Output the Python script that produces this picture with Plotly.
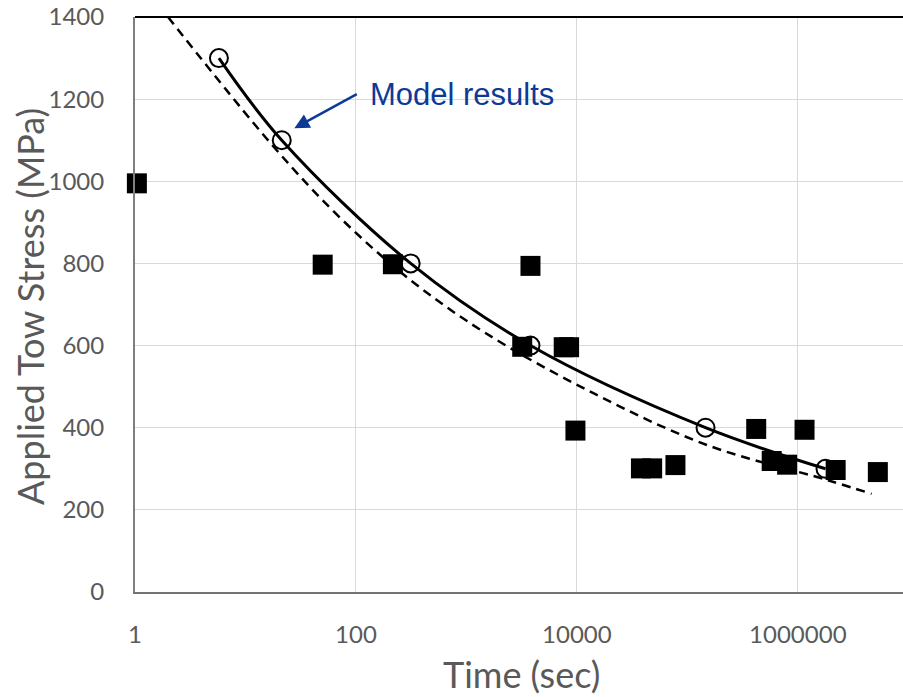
import numpy as np
import plotly.graph_objects as go

# Experimental data (squares)
exp_time = [1.04, 50, 216, 3200, 3800, 7600, 8500, 9700, 38000, 48000, 78000,
            420000, 580000, 800000, 1150000, 2200000, 5300000]
exp_stress = [995, 797, 798, 597, 794, 596, 596, 393, 301, 301, 309,
              397, 319, 310, 395, 297, 292]

# Model results (open circles, smooth solid curve)
model_time = [5.75, 21.3, 313, 3800, 146000, 1780000]
model_stress = [1300, 1100, 800, 600, 400, 300]

# Dashed curve
dash_time = [1.99, 18, 72, 310, 1500, 14100, 150000, 1830000, 4650000]
dash_stress = [1400, 1084, 911, 760, 630, 484, 358, 273, 239]

x_tickvals = [1, 100, 10000, 1000000]
x_ticktext = ["1", "100", "10000", "1000000"]
y_tickvals = [0, 200, 400, 600, 800, 1000, 1200, 1400]

GRAY = "#595959"
FONT = "Lato"

fig = go.Figure()
fig.add_trace(go.Scatter(x=exp_time, y=exp_stress, mode="markers",
                         marker=dict(symbol="square", size=20, color="black"),
                         cliponaxis=False, showlegend=False))
fig.add_trace(go.Scatter(x=dash_time, y=dash_stress, mode="lines",
                         line=dict(color="black", width=2.5, dash="9px,6px", shape="spline"),
                         showlegend=False))
fig.add_trace(go.Scatter(x=model_time, y=model_stress, mode="lines+markers",
                         line=dict(color="black", width=3, shape="spline", smoothing=1),
                         marker=dict(symbol="circle-open", size=18, color="black",
                                     line=dict(width=2, color="black")),
                         cliponaxis=False, showlegend=False))

# Arrow and label for model results
fig.add_annotation(x=np.log10(27.7), y=1129, ax=np.log10(105), ay=1214,
                   xref="x", yref="y", axref="x", ayref="y",
                   text="", showarrow=True, arrowhead=2, arrowsize=1.2,
                   arrowwidth=2.5, arrowcolor="#0D3A97")
fig.add_annotation(x=np.log10(128), y=1212, xref="x", yref="y",
                   text="Model results", showarrow=False, xanchor="left",
                   yanchor="middle",
                   font=dict(family="Liberation Sans, Arial", size=31, color="#0D3A97"))

# Axis titles
fig.add_annotation(x=-0.1367, y=0.4957, xref="paper", yref="paper",
                   text="Applied Tow Stress (MPa)", textangle=-90, showarrow=False,
                   xanchor="center", yanchor="middle",
                   font=dict(family=FONT, size=36, color=GRAY))
fig.add_annotation(x=0.5033, y=-0.142, xref="paper", yref="paper",
                   text="Time (sec)", showarrow=False,
                   xanchor="center", yanchor="middle",
                   font=dict(family=FONT, size=36, color=GRAY))

# top frame line
fig.add_shape(type="line", xref="paper", yref="paper", x0=0, x1=1, y0=1, y1=1,
              line=dict(color="black", width=2))

fig.update_xaxes(type="log", range=[0, 6.952], tickvals=x_tickvals, ticktext=x_ticktext,
                 showgrid=True, gridcolor="#D9D9D9", gridwidth=1,
                 showline=True, linecolor="#737373", linewidth=2,
                 ticks="", ticklabelstandoff=20, zeroline=False,
                 tickfont=dict(family=FONT, size=24, color=GRAY), automargin=False)
fig.update_yaxes(range=[0, 1400], tickvals=y_tickvals,
                 showgrid=True, gridcolor="#D9D9D9", gridwidth=1,
                 showline=True, linecolor="#7F7F7F", linewidth=2,
                 ticks="", ticklabelstandoff=24, zeroline=False,
                 tickfont=dict(family=FONT, size=24, color=GRAY), automargin=False)

fig.update_layout(width=903, height=697, margin=dict(l=135, r=0, t=17, b=105),
                  plot_bgcolor="white", paper_bgcolor="white", showlegend=False)

fig.write_html("out.html")
